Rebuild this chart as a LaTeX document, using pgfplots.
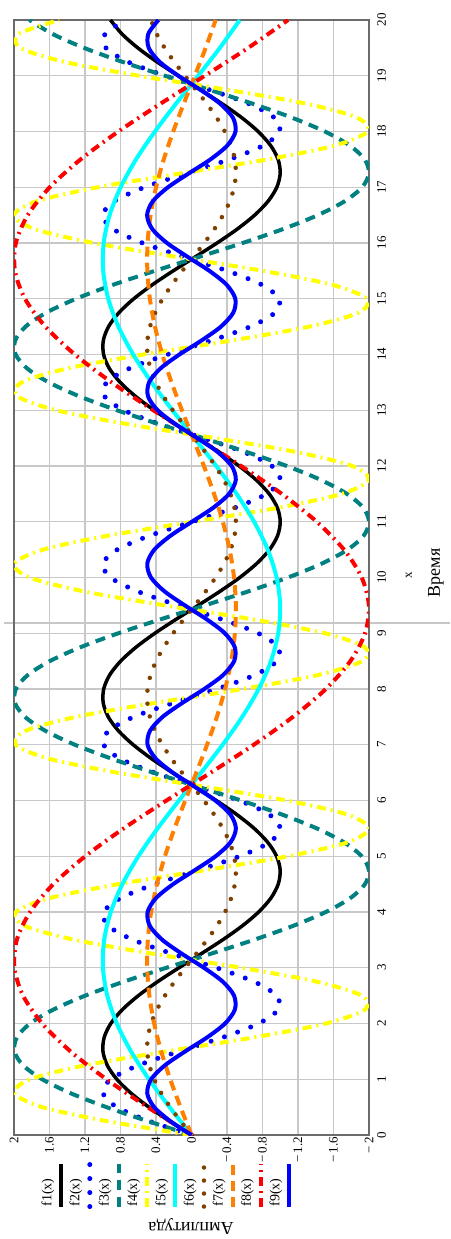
\documentclass[border=0pt]{standalone}
\usepackage{fontspec}
\setmainfont{Liberation Serif}
\usepackage{pgfplots}
\usepackage{pgfplotstable}
\pgfplotsset{compat=1.18}
\definecolor{gridc}{HTML}{C8C8C8}
\definecolor{framec}{HTML}{6B6B6B}
\definecolor{tealc}{HTML}{008080}
\definecolor{yel}{HTML}{FFFF00}
\definecolor{orn}{HTML}{FF8000}
\definecolor{brn}{HTML}{804000}
\definecolor{cyn}{HTML}{00FFFF}
\definecolor{blu}{HTML}{0000FF}
\definecolor{rd}{HTML}{FF0000}

% x step 0.25: s1 = f1, s2 = f2, d1 = f3, d2 = f4, h1 = f6, h2 = f9
\pgfplotstableread{
x s1 s2 d1 d2 h1 h2
0 0 0 0 0 0 0
0.25 0.2474 0.4794 0.4948 0.9588 0.1237 0.2397
0.5 0.4794 0.8415 0.9588 1.683 0.2397 0.4208
0.75 0.6816 0.9975 1.3632 1.995 0.3408 0.4988
1 0.8415 0.9093 1.683 1.8186 0.4208 0.4547
1.25 0.9490 0.5985 1.898 1.197 0.4745 0.2993
1.5 0.9975 0.1411 1.995 0.2822 0.4988 0.0706
1.75 0.9840 -0.3508 1.968 -0.7016 0.492 -0.1754
2 0.9093 -0.7568 1.8186 -1.5136 0.4547 -0.3784
2.25 0.7781 -0.9775 1.5562 -1.955 0.3891 -0.4888
2.5 0.5985 -0.9589 1.197 -1.9178 0.2993 -0.4795
2.75 0.3817 -0.7055 0.7634 -1.411 0.1909 -0.3528
3 0.1411 -0.2794 0.2822 -0.5588 0.0706 -0.1397
3.25 -0.1082 0.2151 -0.2164 0.4302 -0.0541 0.1076
3.5 -0.3508 0.6570 -0.7016 1.314 -0.1754 0.3285
3.75 -0.5716 0.9380 -1.1432 1.876 -0.2858 0.469
4 -0.7568 0.9894 -1.5136 1.9788 -0.3784 0.4947
4.25 -0.8950 0.7985 -1.79 1.597 -0.4475 0.3993
4.5 -0.9775 0.4121 -1.955 0.8242 -0.4888 0.2061
4.75 -0.9993 -0.0752 -1.9986 -0.1504 -0.4997 -0.0376
5 -0.9589 -0.5440 -1.9178 -1.088 -0.4795 -0.272
5.25 -0.8589 -0.8797 -1.7178 -1.7594 -0.4295 -0.4399
5.5 -0.7055 -1.0000 -1.411 -2.0 -0.3528 -0.5
5.75 -0.5083 -0.8755 -1.0166 -1.751 -0.2542 -0.4378
6 -0.2794 -0.5366 -0.5588 -1.0732 -0.1397 -0.2683
6.25 -0.0332 -0.0663 -0.0664 -0.1326 -0.0166 -0.0332
6.5 0.2151 0.4202 0.4302 0.8404 0.1076 0.2101
6.75 0.4500 0.8038 0.9 1.6076 0.225 0.4019
7 0.6570 0.9906 1.314 1.9812 0.3285 0.4953
7.25 0.8231 0.9349 1.6462 1.8698 0.4116 0.4675
7.5 0.9380 0.6503 1.876 1.3006 0.469 0.3252
7.75 0.9946 0.2065 1.9892 0.413 0.4973 0.1033
8 0.9894 -0.2879 1.9788 -0.5758 0.4947 -0.144
8.25 0.9226 -0.7118 1.8452 -1.4236 0.4613 -0.3559
8.5 0.7985 -0.9614 1.597 -1.9228 0.3993 -0.4807
8.75 0.6247 -0.9756 1.2494 -1.9512 0.3124 -0.4878
9 0.4121 -0.7510 0.8242 -1.502 0.2061 -0.3755
9.25 0.1739 -0.3425 0.3478 -0.685 0.087 -0.1713
9.5 -0.0752 0.1499 -0.1504 0.2998 -0.0376 0.075
9.75 -0.3195 0.6055 -0.639 1.211 -0.1598 0.3028
10 -0.5440 0.9129 -1.088 1.8258 -0.272 0.4565
10.25 -0.7346 0.9968 -1.4692 1.9936 -0.3673 0.4984
10.5 -0.8797 0.8367 -1.7594 1.6734 -0.4399 0.4184
10.75 -0.9701 0.4716 -1.9402 0.9432 -0.4851 0.2358
11 -1.0000 -0.0089 -2.0 -0.0178 -0.5 -0.0045
11.25 -0.9678 -0.4872 -1.9356 -0.9744 -0.4839 -0.2436
11.5 -0.8755 -0.8462 -1.751 -1.6924 -0.4378 -0.4231
11.75 -0.7287 -0.9981 -1.4574 -1.9962 -0.3644 -0.4991
12 -0.5366 -0.9056 -1.0732 -1.8112 -0.2683 -0.4528
12.25 -0.3111 -0.5914 -0.6222 -1.1828 -0.1556 -0.2957
12.5 -0.0663 -0.1324 -0.1326 -0.2648 -0.0332 -0.0662
12.75 0.1826 0.3591 0.3652 0.7182 0.0913 0.1796
13 0.4202 0.7626 0.8404 1.5252 0.2101 0.3813
13.25 0.6316 0.9794 1.2632 1.9588 0.3158 0.4897
13.5 0.8038 0.9564 1.6076 1.9128 0.4019 0.4782
13.75 0.9260 0.6992 1.852 1.3984 0.463 0.3496
14 0.9906 0.2709 1.9812 0.5418 0.4953 0.1355
14.25 0.9936 -0.2238 1.9872 -0.4476 0.4968 -0.1119
14.5 0.9349 -0.6636 1.8698 -1.3272 0.4675 -0.3318
14.75 0.8180 -0.9410 1.636 -1.882 0.409 -0.4705
15 0.6503 -0.9880 1.3006 -1.976 0.3252 -0.494
15.25 0.4421 -0.7931 0.8842 -1.5862 0.2211 -0.3966
15.5 0.2065 -0.4040 0.413 -0.808 0.1033 -0.202
15.75 -0.0420 0.0840 -0.084 0.168 -0.021 0.042
16 -0.2879 0.5514 -0.5758 1.1028 -0.144 0.2757
16.25 -0.5159 0.8839 -1.0318 1.7678 -0.258 0.442
16.5 -0.7118 0.9999 -1.4236 1.9998 -0.3559 0.5
16.75 -0.8635 0.8711 -1.727 1.7422 -0.4318 0.4356
17 -0.9614 0.5291 -1.9228 1.0582 -0.4807 0.2646
17.25 -0.9996 0.0575 -1.9992 0.115 -0.4998 0.0288
17.5 -0.9756 -0.4282 -1.9512 -0.8564 -0.4878 -0.2141
17.75 -0.8910 -0.8090 -1.782 -1.618 -0.4455 -0.4045
18 -0.7510 -0.9918 -1.502 -1.9836 -0.3755 -0.4959
18.25 -0.5643 -0.9317 -1.1286 -1.8634 -0.2822 -0.4659
18.5 -0.3425 -0.6435 -0.685 -1.287 -0.1713 -0.3218
18.75 -0.0994 -0.1978 -0.1988 -0.3956 -0.0497 -0.0989
19 0.1499 0.2964 0.2998 0.5928 0.075 0.1482
19.25 0.3898 0.7180 0.7796 1.436 0.1949 0.359
19.5 0.6055 0.9638 1.211 1.9276 0.3028 0.4819
19.75 0.7837 0.9736 1.5674 1.9472 0.3919 0.4868
20 0.9129 0.7451 1.8258 1.4902 0.4565 0.3726
}\tabA

% x step 0.5: q = f5, hq = f7, dq = f8
\pgfplotstableread{
x q hq dq
0 0 0 0
0.5 0.2474 0.1237 0.4948
1 0.4794 0.2397 0.9588
1.5 0.6816 0.3408 1.3632
2 0.8415 0.4208 1.683
2.5 0.9490 0.4745 1.898
3 0.9975 0.4988 1.995
3.5 0.9840 0.492 1.968
4 0.9093 0.4547 1.8186
4.5 0.7781 0.3891 1.5562
5 0.5985 0.2993 1.197
5.5 0.3817 0.1909 0.7634
6 0.1411 0.0706 0.2822
6.5 -0.1082 -0.0541 -0.2164
7 -0.3508 -0.1754 -0.7016
7.5 -0.5716 -0.2858 -1.1432
8 -0.7568 -0.3784 -1.5136
8.5 -0.8950 -0.4475 -1.79
9 -0.9775 -0.4888 -1.955
9.5 -0.9993 -0.4997 -1.9986
10 -0.9589 -0.4795 -1.9178
10.5 -0.8589 -0.4295 -1.7178
11 -0.7055 -0.3528 -1.411
11.5 -0.5083 -0.2542 -1.0166
12 -0.2794 -0.1397 -0.5588
12.5 -0.0332 -0.0166 -0.0664
13 0.2151 0.1076 0.4302
13.5 0.4500 0.225 0.9
14 0.6570 0.3285 1.314
14.5 0.8231 0.4116 1.6462
15 0.9380 0.469 1.876
15.5 0.9946 0.4973 1.9892
16 0.9894 0.4947 1.9788
16.5 0.9226 0.4613 1.8452
17 0.7985 0.3993 1.597
17.5 0.6247 0.3124 1.2494
18 0.4121 0.2061 0.8242
18.5 0.1739 0.087 0.3478
19 -0.0752 -0.0376 -0.1504
19.5 -0.3195 -0.1598 -0.639
20 -0.5440 -0.272 -1.088
}\tabB

\begin{document}
\begin{tikzpicture}
\path[use as bounding box] (0,0) rectangle (450pt,1239pt);
\draw[gridc, line width=1.3pt] (4pt,616pt) -- (450pt,616pt);
\begin{axis}[
  at={(14pt,104pt)}, anchor=south west,
  scale only axis, width=355pt, height=1115pt,
  xmin=-2, xmax=2, ymin=0, ymax=20, x dir=reverse,
  xtick={-2,-1.6,-1.2,-0.8,-0.4,0,0.4,0.8,1.2,1.6,2},
  xticklabels={−\,2,−\,1.6,−\,1.2,−\,0.8,−\,0.4,0,0.4,0.8,1.2,1.6,2},
  ytick={0,1,...,20},
  yticklabel pos=right,
  /pgf/number format/assume math mode=true,
  grid=major,
  major grid style={gridc, line width=1.3pt},
  axis line style={framec, line width=2.2pt},
  major tick length=0pt,
  xticklabel style={rotate=90, anchor=east, inner sep=0pt, font=\fontsize{13}{13}\selectfont},
  xticklabel shift=2pt,
  yticklabel style={rotate=90, anchor=north, inner sep=0pt, font=\fontsize{13}{13}\selectfont},
  yticklabel shift=8pt,
  xlabel={Амплитуда},
  xlabel style={at={(axis description cs:0.4986,-0.0825)}, anchor=center, rotate=180, inner sep=0pt, font=\fontsize{18}{18}\selectfont},
  ylabel={x},
  ylabel style={at={(axis description cs:1.1127,0.5022)}, anchor=center, rotate=0, inner sep=0pt, font=\fontsize{13}{13}\selectfont},
  title={Время},
  title style={at={(axis description cs:1.1887,0.4987)}, anchor=center, rotate=90, inner sep=0pt, font=\fontsize{18}{18}\selectfont},
  legend columns=9,
  legend plot pos=right,
  legend style={draw=none, fill=none, at={(axis description cs:0.0777,-0.0664)}, anchor=south west,
    inner sep=0pt, outer sep=0pt, /tikz/column sep=6.5pt,
    nodes={rotate=90, anchor=west, inner sep=0pt, font=\fontsize{14}{14}\selectfont}},
  legend image code/.code={\draw[#1] (0pt,0pt) -- (0pt,43pt);},
  every axis plot/.append style={no markers, line join=round},
]
\addplot[black, line width=3.5pt, smooth] table[x=s1, y=x] {\tabA};
\addlegendentry{f1(x)}
\addplot[blu, line width=5pt, line cap=round, dash pattern=on 0pt off 14pt, smooth] table[x=s2, y=x] {\tabA};
\addlegendentry{f2(x)}
\addplot[tealc, line width=4pt, dash pattern=on 10pt off 7pt, smooth] table[x=d1, y=x] {\tabA};
\addlegendentry{f3(x)}
\addplot[yel, line width=4pt, dash pattern=on 9pt off 5pt on 2pt off 5pt, smooth] table[x=d2, y=x] {\tabA};
\addlegendentry{f4(x)}
\addplot[cyn, line width=4pt, smooth] table[x=q, y=x] {\tabB};
\addlegendentry{f5(x)}
\addplot[brn, line width=4.5pt, line cap=round, dash pattern=on 0pt off 13pt, smooth] table[x=h1, y=x] {\tabA};
\addlegendentry{f6(x)}
\addplot[orn, line width=4pt, dash pattern=on 10pt off 6pt, smooth] table[x=hq, y=x] {\tabB};
\addlegendentry{f7(x)}
\addplot[rd, line width=4pt, dash pattern=on 9pt off 5pt on 2pt off 5pt, smooth] table[x=dq, y=x] {\tabB};
\addlegendentry{f8(x)}
\addplot[blu, line width=4pt, smooth] table[x=h2, y=x] {\tabA};
\addlegendentry{f9(x)}
\end{axis}
\end{tikzpicture}
\end{document}
